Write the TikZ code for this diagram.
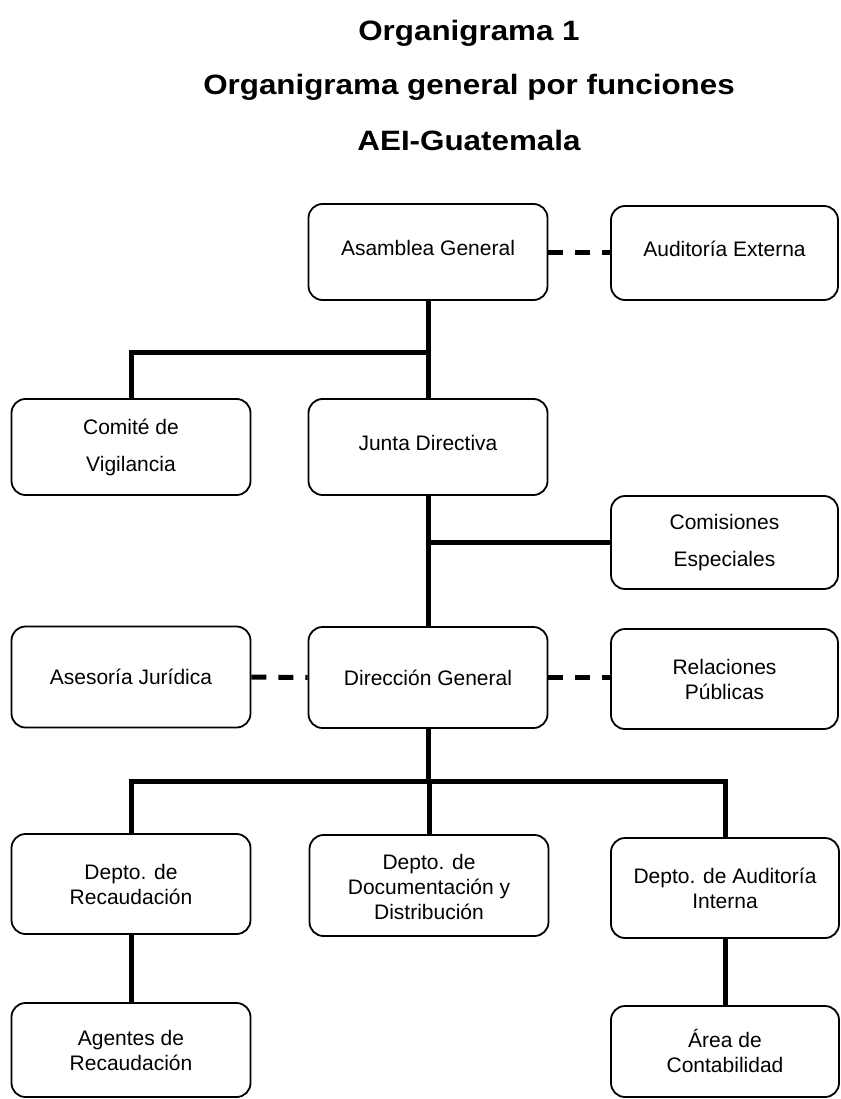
\documentclass[tikz,border=0pt]{standalone}
\usepackage{fontspec}
\setmainfont{Liberation Sans}

\begin{document}
\begin{tikzpicture}[x=1pt, y=-1pt,
    box/.style={draw, line width=1.8pt, rounded corners=14pt, align=center, inner sep=2pt,
        font=\fontsize{21}{25}\selectfont, minimum width=239pt, minimum height=96pt},
    rbox/.style={box, minimum width=227pt},
    link/.style={line width=5pt},
    dashlink/.style={line width=5pt, dash pattern=on 15pt off 12pt},
    titlefont/.style={font=\fontsize{28}{34}\selectfont\bfseries, anchor=base}]
    \useasboundingbox (0,0) rectangle (840,1099);

    \node[titlefont] (t1) at (469,41) {\scalebox{1.12}[1]{Organigrama 1}};
    \node[titlefont] (t2) at (469,95) {\scalebox{1.12}[1]{Organigrama general por funciones}};
    \node[titlefont] (t3) at (469,151) {\scalebox{1.12}[1]{AEI-Guatemala}};

    \node[box] (AG) at (428,252) {\raisebox{4pt}[\height][\depth]{Asamblea General}};
    \node[rbox, minimum height=94pt] (AE) at (724.5,253) {\raisebox{4pt}[\height][\depth]{Auditoría Externa}};
    \node[box] (CV) at (131,447) {Comité de\\[12pt]Vigilancia};
    \node[box] (JD) at (428,447) {\raisebox{4pt}[\height][\depth]{Junta Directiva}};
    \node[rbox, minimum height=93pt] (CE) at (724.5,542.5) {Comisiones\\[12pt]Especiales};
    \node[box, minimum height=101pt] (AJ) at (131,677) {Asesoría Jurídica};
    \node[box, minimum height=101pt] (DG) at (428,677.5) {Dirección General};
    \node[rbox, minimum height=100pt] (RP) at (724.5,679) {Relaciones\\Públicas};
    \node[box, minimum height=100pt] (DR) at (131,884) {Depto. de\\Recaudación};
    \node[box, minimum height=101pt] (DD) at (429,885.5) {\raisebox{-4pt}[\height][\depth]{\begin{tabular}{@{}c@{}}Depto. de\\Documentación y\\Distribución\end{tabular}}};
    \node[rbox, minimum width=228pt, minimum height=100pt] (DA) at (725,888) {Depto. de Auditoría\\Interna};
    \node[box, minimum height=94pt] (AR) at (131,1050) {\raisebox{-3pt}[\height][\depth]{\begin{tabular}{@{}c@{}}Agentes de\\Recaudación\end{tabular}}};
    \node[rbox, minimum width=228pt, minimum height=91pt] (AC) at (725,1051.5) {\raisebox{-3pt}[\height][\depth]{\begin{tabular}{@{}c@{}}Área de\\Contabilidad\end{tabular}}};

    \coordinate (j1) at (428,352);
    \coordinate (j2) at (428,781);

    \draw[dashlink] (AG.east) -- (AG.east -| AE.west);
    \draw[link] (AG.south) -- (JD.north);
    \draw[link] (CV.north) |- (j1);
    \draw[link] (JD.south) -- (DG.north);
    \draw[link] (CE.west) -- (CE.west -| JD.south);
    \draw[dashlink] (AJ.east) -- (DG.west);
    \draw[dashlink] (DG.east) -- (DG.east -| RP.west);
    \draw[link] (DG.south) -- (j2);
    \draw[link] (DR.north) |- (j2 -| DA.north) -- (DA.north);
    \draw[link] (j2) -- (j2 -| DD.north) -- (DD.north);
    \draw[link] (DR.south) -- (AR.north);
    \draw[link] (DA.south) -- (AC.north);
\end{tikzpicture}
\end{document}
